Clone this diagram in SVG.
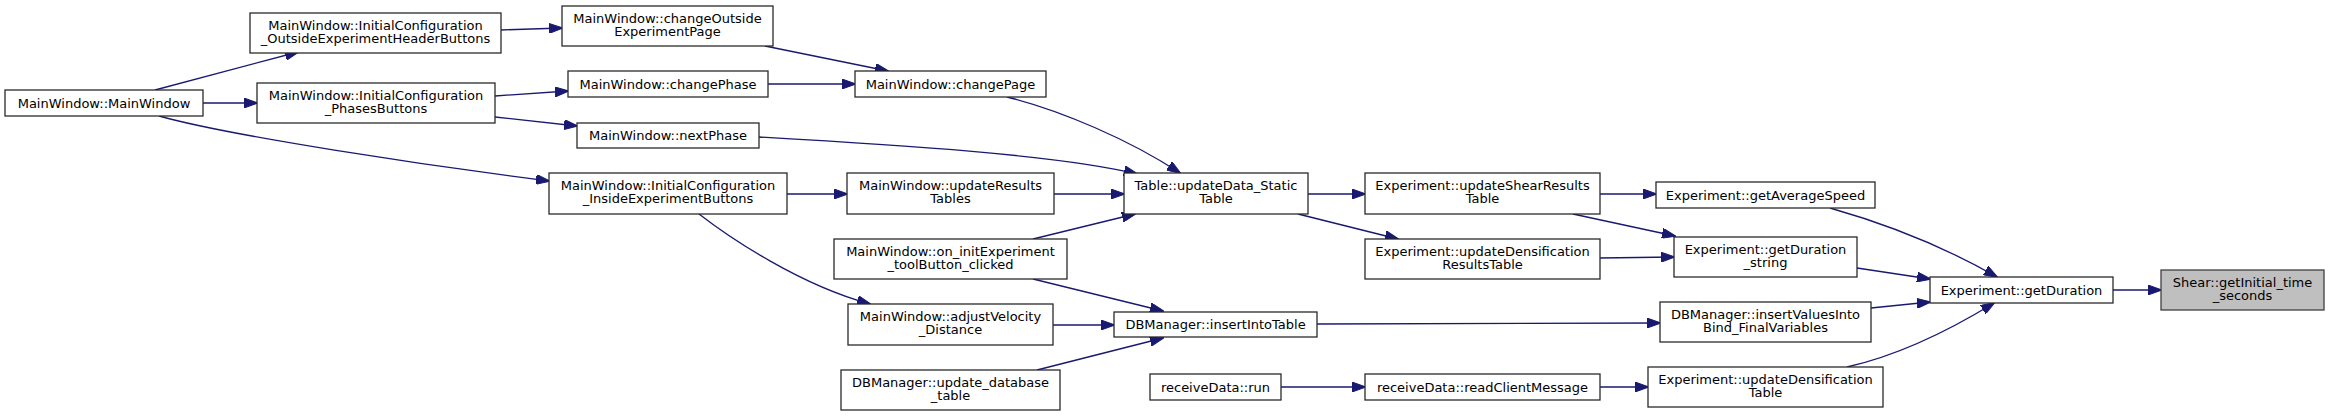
<svg xmlns="http://www.w3.org/2000/svg" width="2329" height="416" viewBox="0 0 2329 416">
<style>
.node rect{fill:#ffffff;stroke:#2a2a2a;stroke-width:1.3}
.node.root rect{fill:#bfbfbf;stroke:#404040}
.node text{font-family:"DejaVu Sans","Liberation Sans",sans-serif;font-size:13px;fill:#000000;text-anchor:middle}
.edges path{fill:none;stroke:#191970;stroke-width:1.3;marker-end:url(#arr)}
</style>
<defs>
<marker id="arr" viewBox="0 0 14 10" markerWidth="14" markerHeight="10" refX="13" refY="5" orient="auto" markerUnits="userSpaceOnUse">
<path d="M0,0 L14,5 L0,10 z" fill="#191970" stroke="#191970" stroke-width="1"/>
</marker>
</defs>
<rect x="0" y="0" width="2329" height="416" fill="#ffffff"/>
<g class="edges" id="edges">
<path d="M155,90 L298,52"/>
<path d="M203,103 L257,103"/>
<path d="M159,116 C230,136 430,166 549,181"/>
<path d="M501,30 L562,28"/>
<path d="M495,96 L568,91"/>
<path d="M495,117 L577,126"/>
<path d="M765,46 L888,71"/>
<path d="M768,84 L855,84"/>
<path d="M1007,97 C1060,110 1130,140 1180,173"/>
<path d="M759,137 C900,145 1060,155 1137,174"/>
<path d="M787,194 L847,194"/>
<path d="M1054,194 L1124,194"/>
<path d="M1033,239 L1135,214"/>
<path d="M699,214 C730,238 800,285 870,304"/>
<path d="M1033,279 L1163,311"/>
<path d="M1053,325 L1114,325"/>
<path d="M1037,370 L1163,338"/>
<path d="M1281,387 L1365,387"/>
<path d="M1308,194 L1365,194"/>
<path d="M1298,214 L1398,239"/>
<path d="M1600,194 L1656,194"/>
<path d="M1573,214 L1675,236"/>
<path d="M1600,258 L1674,257"/>
<path d="M1317,324 L1660,323"/>
<path d="M1600,387 L1648,387"/>
<path d="M1830,208 C1890,225 1950,250 1997,277"/>
<path d="M1857,268 L1930,279"/>
<path d="M1871,308 L1930,302"/>
<path d="M1847,367 C1900,355 1950,330 1994,303"/>
<path d="M2113,290 L2161,290"/>
</g>
<g class="node" id="n1"><rect x="5" y="90" width="198" height="26"/><text x="104" y="107.5">MainWindow::MainWindow</text></g>
<g class="node" id="n2"><rect x="250" y="13" width="251" height="40"/><text x="375.5" y="29.5">MainWindow::InitialConfiguration</text><text x="375.5" y="43">_OutsideExperimentHeaderButtons</text></g>
<g class="node" id="n3"><rect x="257" y="83" width="238" height="40"/><text x="376" y="99.5">MainWindow::InitialConfiguration</text><text x="376" y="113">_PhasesButtons</text></g>
<g class="node" id="n4"><rect x="549" y="173" width="238" height="41"/><text x="668" y="189.5">MainWindow::InitialConfiguration</text><text x="668" y="203">_InsideExperimentButtons</text></g>
<g class="node" id="n5"><rect x="562" y="6" width="211" height="40"/><text x="667.5" y="22.5">MainWindow::changeOutside</text><text x="667.5" y="36">ExperimentPage</text></g>
<g class="node" id="n6"><rect x="568" y="71" width="200" height="26"/><text x="668" y="88.5">MainWindow::changePhase</text></g>
<g class="node" id="n7"><rect x="577" y="123" width="182" height="25"/><text x="668" y="140">MainWindow::nextPhase</text></g>
<g class="node" id="n8"><rect x="855" y="71" width="191" height="26"/><text x="950.5" y="88.5">MainWindow::changePage</text></g>
<g class="node" id="n9"><rect x="847" y="173" width="207" height="41"/><text x="950.5" y="189.5">MainWindow::updateResults</text><text x="950.5" y="203">Tables</text></g>
<g class="node" id="n10"><rect x="834" y="239" width="233" height="40"/><text x="950.5" y="255.5">MainWindow::on_initExperiment</text><text x="950.5" y="269">_toolButton_clicked</text></g>
<g class="node" id="n11"><rect x="848" y="304" width="205" height="41"/><text x="950.5" y="320.5">MainWindow::adjustVelocity</text><text x="950.5" y="334">_Distance</text></g>
<g class="node" id="n12"><rect x="841" y="370" width="219" height="40"/><text x="950.5" y="386.5">DBManager::update_database</text><text x="950.5" y="400">_table</text></g>
<g class="node" id="n13"><rect x="1124" y="173" width="184" height="41"/><text x="1216" y="189.5">Table::updateData_Static</text><text x="1216" y="203">Table</text></g>
<g class="node" id="n14"><rect x="1114" y="312" width="203" height="25"/><text x="1215.5" y="329">DBManager::insertIntoTable</text></g>
<g class="node" id="n15"><rect x="1150" y="374" width="131" height="26"/><text x="1215.5" y="391.5">receiveData::run</text></g>
<g class="node" id="n16"><rect x="1365" y="173" width="235" height="41"/><text x="1482.5" y="189.5">Experiment::updateShearResults</text><text x="1482.5" y="203">Table</text></g>
<g class="node" id="n17"><rect x="1365" y="239" width="235" height="40"/><text x="1482.5" y="255.5">Experiment::updateDensification</text><text x="1482.5" y="269">ResultsTable</text></g>
<g class="node" id="n18"><rect x="1365" y="374" width="235" height="26"/><text x="1482.5" y="391.5">receiveData::readClientMessage</text></g>
<g class="node" id="n19"><rect x="1656" y="182" width="219" height="26"/><text x="1765.5" y="199.5">Experiment::getAverageSpeed</text></g>
<g class="node" id="n20"><rect x="1674" y="237" width="183" height="40"/><text x="1765.5" y="253.5">Experiment::getDuration</text><text x="1765.5" y="267">_string</text></g>
<g class="node" id="n21"><rect x="1660" y="302" width="211" height="40"/><text x="1765.5" y="318.5">DBManager::insertValuesInto</text><text x="1765.5" y="332">Bind_FinalVariables</text></g>
<g class="node" id="n22"><rect x="1648" y="367" width="235" height="40"/><text x="1765.5" y="383.5">Experiment::updateDensification</text><text x="1765.5" y="397">Table</text></g>
<g class="node" id="n23"><rect x="1930" y="277" width="183" height="26"/><text x="2021.5" y="294.5">Experiment::getDuration</text></g>
<g class="node root" id="n24"><rect x="2161" y="270" width="163" height="40"/><text x="2242.5" y="286.5">Shear::getInitial_time</text><text x="2242.5" y="300">_seconds</text></g>
</svg>
